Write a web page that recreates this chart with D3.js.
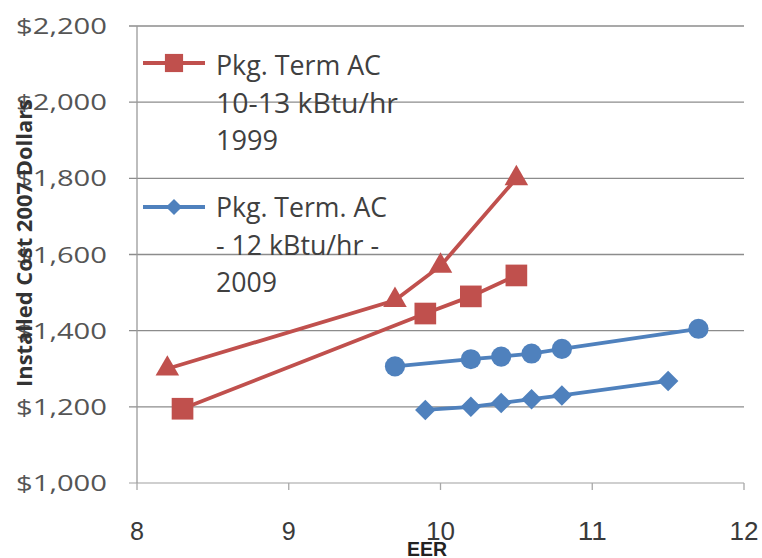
<!DOCTYPE html>
<html>
<head>
<meta charset="utf-8">
<script src="https://cdn.jsdelivr.net/npm/d3@7/dist/d3.min.js"></script>
<style>
  html, body { margin: 0; padding: 0; background: #fff; }
  svg { display: block; }
</style>
</head>
<body>
<svg id="chart" width="762" height="558"></svg>
<script>
// Installed cost vs. EER for packaged terminal air conditioners
const xTicks = [8, 9, 10, 11, 12];
const yTicks = [1000, 1200, 1400, 1600, 1800, 2000, 2200];

const sq1999X = [8.3, 9.9, 10.2, 10.5];
const sq1999Y = [1195, 1445, 1490, 1545];

const tri1999X = [8.2, 9.7, 10.0, 10.5];
const tri1999Y = [1300, 1480, 1570, 1800];

const circ2009X = [9.7, 10.2, 10.4, 10.6, 10.8, 11.7];
const circ2009Y = [1306, 1325, 1332, 1340, 1352, 1405];

const dia2009X = [9.9, 10.2, 10.4, 10.6, 10.8, 11.5];
const dia2009Y = [1192, 1200, 1210, 1220, 1230, 1268];

const legendLabels = [
  ["Pkg. Term AC", "10-13 kBtu/hr", "1999"],
  ["Pkg. Term. AC", "- 12 kBtu/hr -", "2009"]
];

const RED = "#C0504D", BLUE = "#4F81BD";
const TEXT = "#404040";

const svg = d3.select("#chart");
const x = d3.scaleLinear().domain([8, 12]).range([137, 744]);
const y = d3.scaleLinear().domain([1000, 2200]).range([483, 26]);

// helper: stretch a text node to a given rendered width
function fitWidth(sel, w) {
  sel.attr("textLength", w).attr("lengthAdjust", "spacingAndGlyphs");
}

// horizontal gridlines
svg.append("g")
  .selectAll("line").data(yTicks).join("line")
  .attr("x1", x(8) - 8).attr("x2", x(12))
  .attr("y1", d => y(d)).attr("y2", d => y(d))
  .attr("stroke", d => d === 1000 ? "#cfcfcf" : "#8c8c8c")
  .attr("stroke-width", d => d === 1000 ? 2.2 : 1.3);

// vertical axis line
svg.append("line")
  .attr("x1", x(8)).attr("x2", x(8))
  .attr("y1", y(2200)).attr("y2", y(1000))
  .attr("stroke", "#9a9a9a").attr("stroke-width", 1.3);

// x axis ticks
svg.append("g")
  .selectAll("line").data(xTicks).join("line")
  .attr("x1", d => x(d)).attr("x2", d => x(d))
  .attr("y1", y(1000)).attr("y2", y(1000) + 7)
  .attr("stroke", "#a8a8a8").attr("stroke-width", 1.3);

// y tick labels
svg.append("g")
  .selectAll("text").data(yTicks).join("text")
  .attr("x", 107).attr("y", d => y(d) + 8)
  .attr("text-anchor", "end")
  .attr("font-family", "'Open Sans', sans-serif")
  .attr("font-size", 22)
  .attr("fill", "#555")
  .text(d => "$" + d3.format(",")(d))
  .call(fitWidth, 91);

// x tick labels
svg.append("g")
  .selectAll("text").data(xTicks).join("text")
  .attr("x", d => x(d)).attr("y", 540)
  .attr("text-anchor", "middle")
  .attr("font-family", "'Liberation Sans Narrow', 'Liberation Sans', sans-serif")
  .attr("font-size", 25)
  .attr("fill", "#3a3a3a")
  .text(d => d)
  .each(function(d) { d3.select(this).call(fitWidth, d < 10 ? 14 : 29); });

// axis titles
svg.append("text")
  .attr("x", 427).attr("y", 556)
  .attr("text-anchor", "middle")
  .attr("font-family", "'Liberation Sans Narrow', 'Liberation Sans', sans-serif")
  .attr("font-weight", "bold")
  .attr("font-size", 20)
  .attr("fill", "#222")
  .text("EER")
  .call(fitWidth, 40);

svg.append("text")
  .attr("transform", "translate(32,243) rotate(-90)")
  .attr("text-anchor", "middle")
  .attr("font-family", "'Open Sans', sans-serif")
  .attr("font-weight", "bold")
  .attr("font-size", 21)
  .attr("fill", "#333")
  .text("Installed Cost 2007 Dollars")
  .call(fitWidth, 288);

// series
const line = d3.line().x(d => x(d[0])).y(d => y(d[1]));
const series = [
  { xs: tri1999X, ys: tri1999Y, color: RED, sym: d3.symbolTriangle, size: 240, rot: 0 },
  { xs: sq1999X, ys: sq1999Y, color: RED, sym: d3.symbolSquare, size: 470, rot: 0 },
  { xs: circ2009X, ys: circ2009Y, color: BLUE, sym: d3.symbolCircle, size: 320, rot: 0 },
  { xs: dia2009X, ys: dia2009Y, color: BLUE, sym: d3.symbolSquare, size: 210, rot: 45 }
];

series.forEach(s => {
  const pts = d3.zip(s.xs, s.ys);
  svg.append("path")
    .datum(pts)
    .attr("d", line)
    .attr("fill", "none")
    .attr("stroke", s.color)
    .attr("stroke-width", 3.8);
  svg.append("g")
    .selectAll("path").data(pts).join("path")
    .attr("transform", d => `translate(${x(d[0])},${y(d[1])}) rotate(${s.rot})`)
    .attr("d", d3.symbol().type(s.sym).size(s.size))
    .attr("fill", s.color);
});

// legend
const legend = [
  { color: RED, size: 330, rot: 0, lineY: 63, base: 75, widths: [165, 182, 62] },
  { color: BLUE, size: 130, rot: 45, lineY: 207, base: 217, widths: [171, 163, 61] }
];
legend.forEach((l, i) => {
  const g = svg.append("g");
  g.append("line")
    .attr("x1", 143).attr("x2", 205)
    .attr("y1", l.lineY).attr("y2", l.lineY)
    .attr("stroke", l.color).attr("stroke-width", 3.8);
  g.append("path")
    .attr("transform", `translate(174,${l.lineY}) rotate(${l.rot})`)
    .attr("d", d3.symbol().type(d3.symbolSquare).size(l.size))
    .attr("fill", l.color);
  g.selectAll("text").data(legendLabels[i]).join("text")
    .attr("x", 216)
    .attr("y", (d, j) => l.base + j * 37.5)
    .attr("font-family", "'Open Sans', sans-serif")
    .attr("font-size", 27)
    .attr("fill", TEXT)
    .text(d => d)
    .each(function(d, j) { d3.select(this).call(fitWidth, l.widths[j]); });
});
</script>
</body>
</html>
